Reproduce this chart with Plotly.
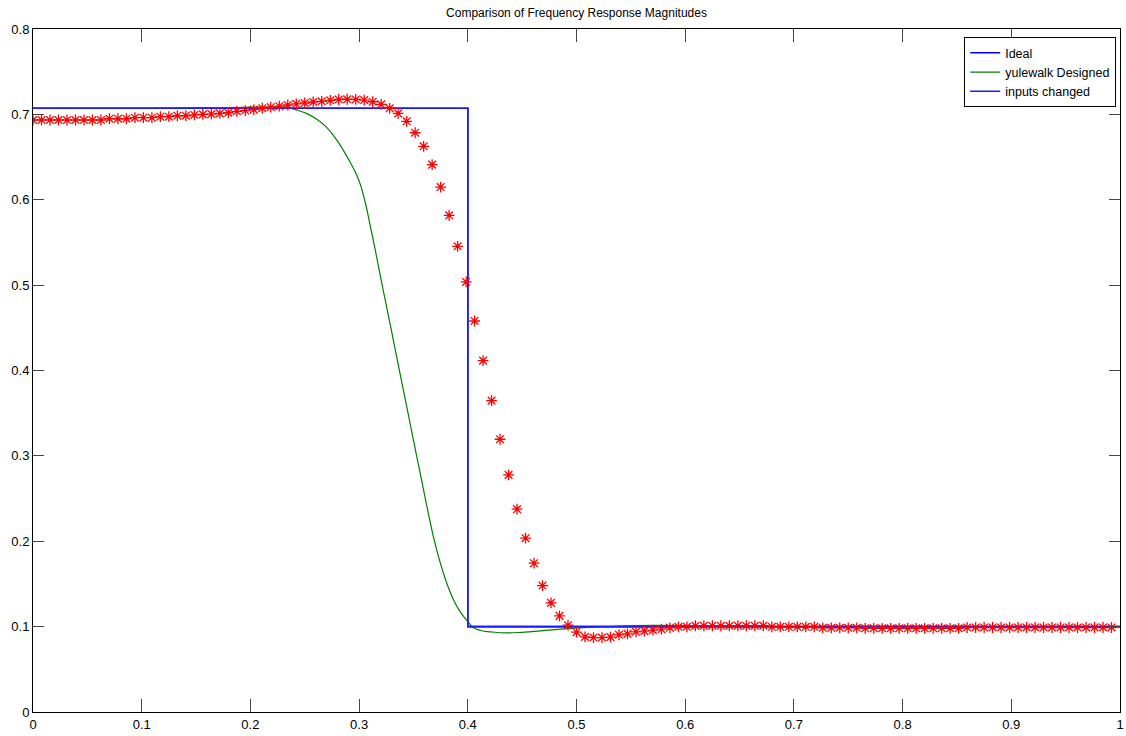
import plotly.graph_objects as go

# ---------------- data ----------------
title_text = "Comparison of Frequency Response Magnitudes"
legend_names = ["Ideal", "yulewalk Designed", "inputs changed"]

ideal_f = [0.0, 0.4, 0.4, 1.0]
ideal_m = [0.7071, 0.7071, 0.1, 0.1]

changed_f = [0.0, 0.4, 0.4, 1.0]
changed_m = [0.7071, 0.7071, 0.1, 0.1]

yule_f = [0.0, 0.05, 0.10, 0.15, 0.184, 0.21, 0.234, 0.243, 0.252, 0.261, 0.2704,
          0.2797, 0.2889, 0.2996, 0.3057, 0.3103, 0.3149, 0.3195, 0.3241, 0.3287,
          0.3333, 0.3379, 0.3441, 0.3502, 0.3564, 0.3625, 0.3686, 0.3748, 0.3809,
          0.3870, 0.3932, 0.4, 0.405, 0.412, 0.421, 0.436, 0.452, 0.467, 0.4975,
          0.5283, 0.5712, 0.62, 0.7, 0.85, 1.0]
yule_m = [0.7071, 0.7071, 0.7072, 0.7075, 0.7080, 0.7085, 0.7080, 0.7049, 0.7009, 0.6943, 0.6845,
          0.6695, 0.6505, 0.6235, 0.5965, 0.5690, 0.5410, 0.5110, 0.4820, 0.4535,
          0.4240, 0.3950, 0.3560, 0.3170, 0.2785, 0.2400, 0.2040, 0.1740, 0.1500,
          0.1310, 0.1170, 0.1060, 0.0990, 0.0955, 0.0939, 0.0926, 0.0935, 0.0950, 0.0982,
          0.1001, 0.1015, 0.1005, 0.1000, 0.1000, 0.1000]

n_pts = 128
star_f = [k / n_pts for k in range(n_pts)]
star_m = [0.6934, 0.6934, 0.6934, 0.6934, 0.6934, 0.6934, 0.6934, 0.6934, 0.6934,
          0.6949, 0.6949, 0.6949, 0.6961, 0.6961, 0.6961, 0.6973, 0.6973,
          0.6984, 0.6984, 0.6993,
          0.7000, 0.7003, 0.7012, 0.7019, 0.7036, 0.7045, 0.7056, 0.7072, 0.7084, 0.7096,
          0.7110, 0.7124, 0.7133, 0.7145, 0.7153, 0.7165, 0.7174, 0.7177, 0.7175, 0.7168,
          0.7148, 0.7118, 0.7071, 0.7012, 0.6919, 0.6785, 0.6626, 0.6411, 0.6149, 0.5818,
          0.5455, 0.5037, 0.4580, 0.4116, 0.3647, 0.3195, 0.2777, 0.2376, 0.2036, 0.1743,
          0.1481, 0.1278, 0.1126, 0.1017, 0.0935, 0.0880, 0.0872, 0.0872, 0.0877, 0.0904,
          0.0915, 0.0939, 0.0947, 0.0959, 0.0971, 0.0986, 0.0998, 0.0998,
          0.1010, 0.1010, 0.1010, 0.1010, 0.1010, 0.1010, 0.1010, 0.1010, 0.1010,
          0.0998, 0.0998, 0.0998, 0.0998, 0.0998, 0.0998,
          0.0986, 0.0986, 0.0986, 0.0986, 0.0986,
          0.0980, 0.0980, 0.0980, 0.0980, 0.0980, 0.0980, 0.0980, 0.0980, 0.0980, 0.0980, 0.0980, 0.0980,
          0.0990, 0.0990, 0.0990, 0.0990, 0.0990, 0.0990, 0.0990, 0.0990, 0.0990,
          0.0990, 0.0990, 0.0990, 0.0990, 0.0990, 0.0990, 0.0990, 0.0990, 0.0990]

x_ticks = [0, 0.1, 0.2, 0.3, 0.4, 0.5, 0.6, 0.7, 0.8, 0.9, 1]
x_labels = ["0", "0.1", "0.2", "0.3", "0.4", "0.5", "0.6", "0.7", "0.8", "0.9", "1"]
y_ticks = [0, 0.1, 0.2, 0.3, 0.4, 0.5, 0.6, 0.7, 0.8]
y_labels = ["0", "0.1", "0.2", "0.3", "0.4", "0.5", "0.6", "0.7", "0.8"]

# ---------------- figure ----------------
FONT = "Liberation Sans, Arial, sans-serif"
fig = go.Figure()

fig.add_trace(go.Scatter(x=ideal_f, y=ideal_m, mode="lines", name=legend_names[0],
                         line=dict(color="#0000ff", width=1.6)))
fig.add_trace(go.Scatter(x=yule_f, y=yule_m, mode="lines", name=legend_names[1],
                         line=dict(color="#008000", width=1.2, shape="spline", smoothing=1.3)))
fig.add_trace(go.Scatter(x=changed_f, y=changed_m, mode="lines", name=legend_names[2],
                         line=dict(color="#1a1aff", width=1.6)))
fig.add_trace(go.Scatter(x=star_f, y=star_m, mode="markers", showlegend=False,
                         marker=dict(symbol="asterisk-open", size=9, color="#ff0000",
                                     line=dict(color="#ff0000", width=1.3))))

axis_common = dict(showgrid=False, zeroline=False, showline=True, linecolor="black",
                   linewidth=1, mirror="ticks", ticks="inside", tickcolor="#444444",
                   tickwidth=1, automargin=False,
                   tickfont=dict(family=FONT, size=13, color="black"))

fig.update_xaxes(range=[0, 1], tickvals=x_ticks, ticktext=x_labels, ticklen=13, **axis_common)
fig.update_yaxes(range=[0, 0.8], tickvals=y_ticks, ticktext=y_labels, ticklen=11, **axis_common)

fig.update_layout(
    width=1126, height=736,
    margin=dict(l=33, r=6, t=29, b=24, autoexpand=False),
    paper_bgcolor="white", plot_bgcolor="white",
    title=dict(text=title_text, x=0.5, xanchor="center", xref="paper",
               yref="container", y=1 - 13 / 736, yanchor="middle",
               font=dict(family=FONT, size=12, color="black"), automargin=False),
    font=dict(family=FONT, size=12, color="black"),
    legend=dict(x=0.9965, y=0.988, xanchor="right", yanchor="top",
                bgcolor="white", bordercolor="black", borderwidth=1,
                font=dict(family=FONT, size=12.5, color="black"),
                tracegroupgap=0),
    showlegend=True,
)

fig.write_html("out.html", config={"displayModeBar": False},
               post_script="document.body.style.margin='0';document.body.style.overflow='hidden';")
